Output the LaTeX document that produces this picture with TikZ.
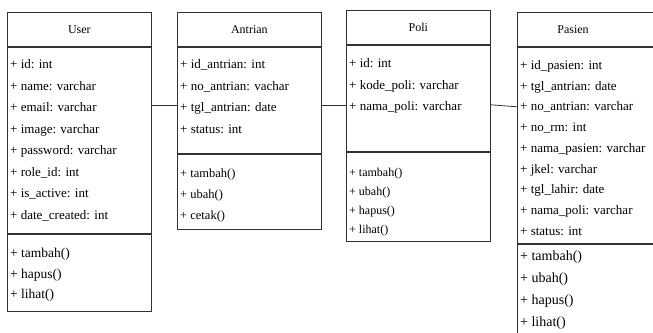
\documentclass[tikz,border=0pt]{standalone}
\usepackage{fontspec}
\setmainfont{Liberation Serif}
\usetikzlibrary{positioning}

\tikzset{
  umlpart/.style={draw=black!80, line width=0.8pt, minimum width=144pt, inner sep=0pt, anchor=north west},
  umlhead/.style={umlpart, minimum height=34pt, font=\fontsize{12}{14}\selectfont},
  umltext/.style={anchor=north west, align=left, inner sep=0pt},
  umllink/.style={draw=black!80, line width=0.8pt},
}
\newcommand{\rowfont}[2]{\fontsize{#1}{#2}\selectfont}

\begin{document}
\begin{tikzpicture}[x=1pt,y=-1pt]
  \clip (0,0) rectangle (653,332);
  % User
  \node[umlhead] (user-head) at (7,12) {User};
  \node[umlpart, minimum height=186pt, below=0pt of user-head] (user-attr) {};
  \node[umlpart, minimum height=77pt, below=0pt of user-attr] (user-meth) {};
  \node[umltext, font=\rowfont{13}{21.5}] (user-attr-txt) at ([xshift=3pt,yshift=-12.5pt]user-attr.north west)
    {+ id: int\\+ name: varchar\\+ email: varchar\\+ image: varchar\\+ password: varchar\\+ role\_id: int\\+ is\_active: int\\+ date\_created: int};
  \node[umltext, font=\rowfont{13.5}{20.5}] (user-meth-txt) at ([xshift=3pt,yshift=-14.5pt]user-meth.north west)
    {+ tambah()\\+ hapus()\\+ lihat()};
  % Antrian
  \node[umlhead] (antrian-head) at (177,12) {Antrian};
  \node[umlpart, minimum height=106pt, below=0pt of antrian-head] (antrian-attr) {};
  \node[umlpart, minimum height=75pt, below=0pt of antrian-attr] (antrian-meth) {};
  \node[umltext, font=\rowfont{13}{21.7}] (antrian-attr-txt) at ([xshift=3pt,yshift=-12.5pt]antrian-attr.north west)
    {+ id\_antrian: int\\+ no\_antrian: vachar\\+ tgl\_antrian: date\\+ status: int};
  \node[umltext, font=\rowfont{12.5}{21}] (antrian-meth-txt) at ([xshift=3pt,yshift=-15.5pt]antrian-meth.north west)
    {+ tambah()\\+ ubah()\\+ cetak()};
  % Poli
  \node[umlhead] (poli-head) at (346,10) {Poli};
  \node[umlpart, minimum height=106pt, below=0pt of poli-head] (poli-attr) {};
  \node[umlpart, minimum height=89pt, below=0pt of poli-attr] (poli-meth) {};
  \node[umltext, font=\rowfont{13}{21.5}] (poli-attr-txt) at ([xshift=3pt,yshift=-13.5pt]poli-attr.north west)
    {+ id: int\\+ kode\_poli: varchar\\+ nama\_poli: varchar};
  \node[umltext, font=\rowfont{12}{19}] (poli-meth-txt) at ([xshift=3pt,yshift=-16pt]poli-meth.north west)
    {+ tambah()\\+ ubah()\\+ hapus()\\+ lihat()};
  % Pasien (runs off the right and bottom edge)
  \node[umlpart, minimum width=163pt, minimum height=34pt] (pasien-head) at (517,12) {};
  \node[font=\rowfont{12}{14}] (pasien-title) at ([xshift=56pt]pasien-head.west) {Pasien};
  \node[umlpart, minimum width=163pt, minimum height=196pt, below=0pt of pasien-head] (pasien-attr) {};
  \node[umlpart, minimum width=163pt, minimum height=118pt, below=0pt of pasien-attr] (pasien-meth) {};
  \node[umltext, font=\rowfont{13}{20.7}] (pasien-attr-txt) at ([xshift=3pt,yshift=-13.5pt]pasien-attr.north west)
    {+ id\_pasien: int\\+ tgl\_antrian: date\\+ no\_antrian: varchar\\+ no\_rm: int\\+ nama\_pasien: varchar\\+ jkel: varchar\\+ tgl\_lahir: date\\+ nama\_poli: varchar\\+ status: int};
  \node[umltext, font=\rowfont{14}{22}] (pasien-meth-txt) at ([xshift=3pt,yshift=-6.5pt]pasien-meth.north west)
    {+ tambah()\\+ ubah()\\+ hapus()\\+ lihat()};
  % links
  \draw[umllink] ([yshift=-59pt]user-attr.north east) -- ([yshift=-59pt]antrian-attr.north west);
  \draw[umllink] ([yshift=-59pt]antrian-attr.north east) -- ([yshift=-61pt]poli-attr.north west);
  \draw[umllink] ([yshift=-60pt]poli-attr.north east) -- ([yshift=-60pt]pasien-attr.north west);
\end{tikzpicture}
\end{document}
